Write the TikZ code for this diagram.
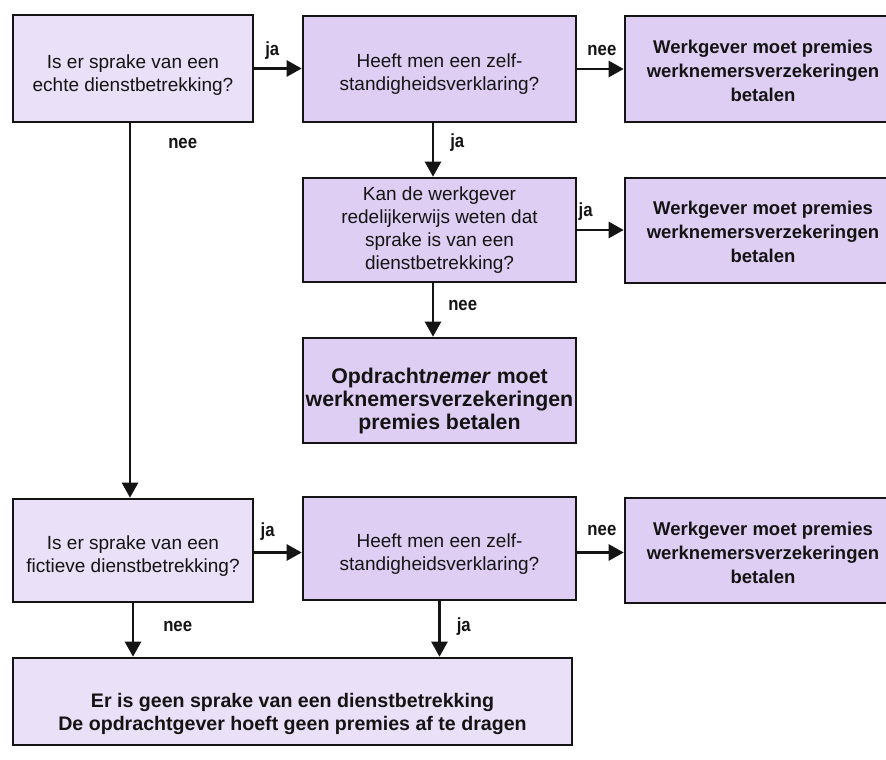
\documentclass[tikz,border=0pt]{standalone}
\usepackage{fontspec}
\setmainfont{Liberation Sans}
\newfontfamily\lblfont[FakeStretch=0.88]{Liberation Sans}
\usetikzlibrary{arrows.meta}
\definecolor{lightlav}{RGB}{234,224,247}
\definecolor{midlav}{RGB}{222,206,243}
\definecolor{inkc}{RGB}{20,20,20}
\begin{document}
\begin{tikzpicture}[x=1pt,y=-1pt,
  box/.style={draw=inkc, line width=2.6pt, inner sep=0pt},
  qbox/.style={box, fill=lightlav},
  mbox/.style={box, fill=midlav},
  qtxt/.style={align=center, inner sep=0pt, text=inkc, font=\fontsize{19}{23}\selectfont},
  atxt/.style={align=center, inner sep=0pt, text=inkc, font=\fontsize{18.5}{24}\selectfont\bfseries},
  arr/.style={draw=inkc, line width=2.5pt, -{Triangle[length=15pt,width=16pt]}},
  lbl/.style={font=\lblfont\fontsize{19}{19}\selectfont\bfseries, inner sep=0pt, text=inkc}]
\useasboundingbox (0,0) rectangle (886,760);
\fill[white] (0,0) rectangle (886,760);
\clip (0,0) rectangle (886,760);

% row 1
\node[qbox, minimum width=240pt, minimum height=107pt] (b1) at (133,68.5) {};
\node[qtxt] (b1t) at ([yshift=-7pt]b1.center) {Is er sprake van een\\echte dienstbetrekking?};
\node[mbox, minimum width=273pt, minimum height=106pt] (b2) at (439.5,69) {};
\node[qtxt] (b2t) at ([yshift=-5pt]b2.center) {Heeft men een zelf-\\standigheidsverklaring?};
\node[mbox, minimum width=276pt, minimum height=106pt] (b3) at (763,69) {};
\node[atxt] (b3t) at ([yshift=-2pt]b3.center) {Werkgever moet premies\\werknemersverzekeringen\\betalen};

% row 2
\node[mbox, minimum width=273pt, minimum height=104pt] (b4) at (439.5,230) {};
\node[qtxt] (b4t) at (b4.center) {Kan de werkgever\\redelijkerwijs weten dat\\sprake is van een\\dienstbetrekking?};
\node[mbox, minimum width=276pt, minimum height=105pt] (b5) at (763,230.5) {};
\node[atxt] (b5t) at ([yshift=-1pt]b5.center) {Werkgever moet premies\\werknemersverzekeringen\\betalen};

% row 3
\node[mbox, minimum width=273pt, minimum height=105pt] (b6) at (439.5,390.5) {};
\node[atxt, font=\fontsize{21.3}{23}\selectfont\bfseries] (b6t) at ([yshift=-10pt]b6.center)
  {Opdracht\textit{nemer} moet\\werknemersverzekeringen\\premies betalen};

% row 4
\node[qbox, minimum width=240pt, minimum height=103pt] (b7) at (133,550.5) {};
\node[qtxt] (b7t) at ([yshift=-6pt]b7.center) {Is er sprake van een\\fictieve dienstbetrekking?};
\node[mbox, minimum width=273pt, minimum height=103pt] (b8) at (439.5,548.5) {};
\node[qtxt] (b8t) at ([yshift=-6pt]b8.center) {Heeft men een zelf-\\standigheidsverklaring?};
\node[mbox, minimum width=276pt, minimum height=105pt] (b9) at (763,550.5) {};
\node[atxt] (b9t) at ([yshift=-2pt]b9.center) {Werkgever moet premies\\werknemersverzekeringen\\betalen};

% bottom
\node[qbox, minimum width=559pt, minimum height=87pt] (b10) at (292.5,701.5) {};
\node[atxt, font=\fontsize{19.6}{23}\selectfont\bfseries] (b10t) at ([yshift=-12pt]b10.center)
  {Er is geen sprake van een dienstbetrekking\\De opdrachtgever hoeft geen premies af te dragen};

% connectors
\draw[arr] (b1.east) -- (b1.east -| b2.west)
  node[lbl, pos=0.38, above=8pt] {ja};
\draw[arr] (b2.east) -- (b2.east -| b3.west)
  node[lbl, pos=0.53, above=12pt] {nee};
\draw[arr] ([xshift=-6.5pt]b2.south) -- ([xshift=-6.5pt]b4.north)
  node[lbl, pos=0.36, right=16pt] {ja};
\draw[arr] (b4.east) -- (b4.east -| b5.west)
  node[lbl, pos=0.18, above=8pt] {ja};
\draw[arr] ([xshift=-6.5pt]b4.south) -- ([xshift=-6.5pt]b6.north)
  node[lbl, pos=0.41, right=14pt] {nee};
\draw[arr] ([xshift=-3pt]b1.south) -- ([xshift=-3pt]b1.south |- b7.north)
  node[lbl, pos=0.053, right=37pt] {nee};
\draw[arr] ([yshift=-2pt]b7.east) -- ([yshift=-2pt]b7.east -| b8.west)
  node[lbl, pos=0.28, above=11pt] {ja};
\draw[arr] ([yshift=-4pt]b8.east) -- ([yshift=-4pt]b8.east -| b9.west)
  node[lbl, pos=0.53, above=16pt] {nee};
\draw[arr] (b7.south) -- (b7.south |- b10.north)
  node[lbl, pos=0.43, right=29pt] {nee};
\draw[arr] (b8.south) -- (b8.south |- b10.north)
  node[lbl, pos=0.45, right=16pt] {ja};
\end{tikzpicture}
\end{document}
